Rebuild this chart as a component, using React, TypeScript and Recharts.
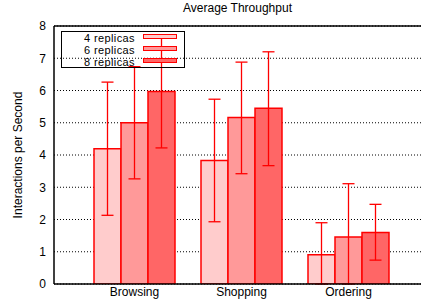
import React from 'react';
import { ComposedChart, Bar, XAxis, YAxis, CartesianGrid, ErrorBar, ReferenceLine } from 'recharts';

const categories = ['Browsing', 'Shopping', 'Ordering'];
const replicas4 = [4.19, 3.83, 0.91];
const replicas4Err = [[2.06, 2.07], [1.9, 1.9], [0.91, 0.99]];
const replicas6 = [5.0, 5.16, 1.46];
const replicas6Err = [[1.74, 1.74], [1.74, 1.72], [1.46, 1.65]];
const replicas8 = [5.97, 5.45, 1.6];
const replicas8Err = [[1.75, 1.72], [1.78, 1.75], [0.86, 0.87]];
const yTicks = [0, 1, 2, 3, 4, 5, 6, 7, 8];
const seriesNames = ['4 replicas', '6 replicas', '8 replicas'];
const fills = ['#ffcccc', '#ff9999', '#ff6666'];

const data = categories.map((c, i) => ({
  name: c,
  r4: replicas4[i],
  r4e: replicas4Err[i],
  r6: replicas6[i],
  r6e: replicas6Err[i],
  r8: replicas8[i],
  r8e: replicas8Err[i],
}));

const FONT = '"Liberation Sans", Arial, sans-serif';

const LegendBox = () => (
  <div
    style={{
      position: 'absolute',
      left: 61,
      top: 31,
      width: 124,
      height: 37,
      border: '1px solid #000',
      boxSizing: 'border-box',
      fontFamily: FONT,
      fontSize: 11,
    }}
  >
    {seriesNames.map((n, i) => (
      <div key={n} style={{ position: 'absolute', left: 0, top: -0.5 + i * 12, height: 12, width: 122 }}>
        <div style={{ position: 'absolute', right: 49, top: 0, height: 12, lineHeight: '12px', color: '#000', whiteSpace: 'nowrap', letterSpacing: 0.4 }}>{n}</div>
        <div
          style={{
            position: 'absolute',
            left: 81,
            top: 2.5,
            width: 32,
            height: 3,
            background: fills[i],
            border: '1.5px solid #ff0000',
          }}
        />
      </div>
    ))}
  </div>
);

const YLabel = (props: any) => {
  const vb = props.viewBox || { y: 26, height: 258 };
  const cy = vb.y + vb.height / 2;
  return (
    <text
      x={18}
      y={cy}
      transform={`rotate(-90, 18, ${cy})`}
      textAnchor="middle"
      dominantBaseline="central"
      fontFamily={FONT}
      fontSize={12}
      fill="#000"
    >
      Interactions per Second
    </text>
  );
};

export default function App() {
  return (
    <div style={{ position: 'absolute', left: 0, top: 0, width: 422, height: 302, background: '#fff' }}>
      <div
        style={{
          position: 'absolute',
          left: 54,
          width: 367,
          top: 1,
          textAlign: 'center',
          fontFamily: FONT,
          fontSize: 12,
          color: '#000',
        }}
      >
        Average Throughput
      </div>
      <ComposedChart
        width={422}
        height={302}
        data={data}
        margin={{ top: 26, right: 1, bottom: 0, left: 0 }}
        barCategoryGap={13}
        barGap={0}
      >
        <CartesianGrid horizontal vertical={false} stroke="#000" strokeDasharray="1 2" />
        <XAxis
          dataKey="name"
          height={18}
          padding={{ left: 27, right: 19 }}
          tickLine={false}
          tickSize={0}
          tickMargin={3}
          axisLine={{ stroke: '#000', strokeWidth: 1.5 }}
          tick={{ fill: '#000', fontFamily: FONT, fontSize: 12 }}
        />
        <YAxis
          width={54}
          domain={[0, 8]}
          allowDataOverflow
          ticks={yTicks}
          interval={0}
          tickLine={false}
          tickSize={0}
          tickMargin={8}
          axisLine={{ stroke: '#000', strokeWidth: 1.5 }}
          tick={{ fill: '#000', fontFamily: FONT, fontSize: 12 }}
          label={<YLabel />}
        />
        <ReferenceLine y={8} stroke="#000" strokeWidth={1.5} />
        <Bar dataKey="r4" name={seriesNames[0]} fill={fills[0]} stroke="#ff0000" strokeWidth={1.5} isAnimationActive={false}>
          <ErrorBar dataKey="r4e" width={6} stroke="#ff0000" strokeWidth={1.3} />
        </Bar>
        <Bar dataKey="r6" name={seriesNames[1]} fill={fills[1]} stroke="#ff0000" strokeWidth={1.5} isAnimationActive={false}>
          <ErrorBar dataKey="r6e" width={6} stroke="#ff0000" strokeWidth={1.3} />
        </Bar>
        <Bar dataKey="r8" name={seriesNames[2]} fill={fills[2]} stroke="#ff0000" strokeWidth={1.5} isAnimationActive={false}>
          <ErrorBar dataKey="r8e" width={6} stroke="#ff0000" strokeWidth={1.3} />
        </Bar>
      </ComposedChart>
      <LegendBox />
    </div>
  );
}
